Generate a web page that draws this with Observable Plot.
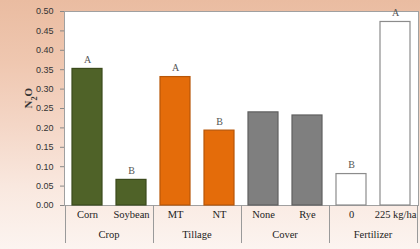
<!DOCTYPE html>
<html>
<head>
<meta charset="utf-8">
<script src="https://cdn.jsdelivr.net/npm/d3@7"></script>
<script src="https://cdn.jsdelivr.net/npm/@observablehq/plot@0.6"></script>
<style>
  html, body { margin: 0; padding: 0; }
  body {
    width: 420px; height: 249px; overflow: hidden;
    background: linear-gradient(to bottom, #eabca1 0%, #efc7b0 25%, #f4d6c6 50%, #f9e8df 75%, #fcf4f0 100%);
  }
  svg { display: block; background: transparent !important; }
</style>
</head>
<body>
<div id="chart"></div>
<script>
const categories = ["Corn", "Soybean", "MT", "NT", "None", "Rye", "0", "225 kg/ha"];
const groups = ["Crop", "Crop", "Tillage", "Tillage", "Cover", "Cover", "Fertilizer", "Fertilizer"];
const values = [0.352, 0.066, 0.331, 0.193, 0.240, 0.232, 0.081, 0.473];
const letters = ["A", "B", "A", "B", "", "", "B", "A"];
const groupNames = ["Crop", "Tillage", "Cover", "Fertilizer"];
const yTicks = [0, 0.05, 0.10, 0.15, 0.20, 0.25, 0.30, 0.35, 0.40, 0.45, 0.50];
const groupFill = {Crop: "#4f6228", Tillage: "#e46c0a", Cover: "#7f7f7f", Fertilizer: "#ffffff"};
const groupStroke = {Crop: "#3b4a1c", Tillage: "#b85607", Cover: "#5f5f5f", Fertilizer: "#8c8c8c"};

const data = categories.map((c, i) => ({cat: c, group: groups[i], value: values[i], letter: letters[i]}));

function groupDecor(index, scales, vals, dimensions) {
  const x = scales.x;
  const g = d3.create("svg:g");
  const step = x(categories[1]) - x(categories[0]);
  const bw = x.bandwidth ? x.bandwidth() : step * 0.68;
  const gap = (step - bw) / 2;
  const y0 = dimensions.height - dimensions.marginBottom;
  const bounds = [];
  groupNames.forEach((gn, i) => {
    const cats = categories.filter((c, j) => groups[j] === gn);
    const left = x(cats[0]) - gap;
    const right = x(cats[cats.length - 1]) + bw + gap;
    if (i === 0) bounds.push(left);
    bounds.push(right);
    g.append("text")
      .attr("x", (left + right) / 2)
      .attr("y", y0 + 31)
      .attr("text-anchor", "middle")
      .attr("dominant-baseline", "middle")
      .attr("font-family", "Liberation Serif, serif")
      .attr("font-size", 10.5)
      .attr("fill", "#222")
      .text(gn);
  });
  bounds.forEach(b => {
    g.append("line")
      .attr("x1", Math.round(b) + 0.5).attr("x2", Math.round(b) + 0.5)
      .attr("y1", y0).attr("y2", y0 + 38)
      .attr("stroke", "#9a9a9a").attr("stroke-width", 1);
  });
  return g.node();
}

const chart = Plot.plot({
  width: 420,
  height: 249,
  marginLeft: 64,
  marginRight: 2,
  marginTop: 11,
  marginBottom: 44,
  style: {background: "transparent", overflow: "visible"},
  x: {domain: categories, paddingInner: 0.32, paddingOuter: 0.16, axis: null},
  y: {domain: [0, 0.5], axis: null},
  marks: [
    Plot.frame({fill: "white", stroke: "#a0a0a0"}),
    Plot.barY(data, {
      x: "cat", y: "value",
      fill: d => groupFill[d.group],
      stroke: d => groupStroke[d.group],
      strokeWidth: 1.2
    }),
    Plot.text(data, {
      x: "cat", y: "value", text: "letter", dy: -9,
      fontFamily: "Liberation Serif, serif", fontSize: 10, fill: "#555"
    }),
    Plot.axisY({
      ticks: yTicks, tickFormat: d => d.toFixed(2), tickSize: 4, tickPadding: 7,
      fontSize: 9, fontFamily: "Liberation Sans, sans-serif", stroke: "#888", fill: "#333", label: null
    }),
    Plot.text(data, {
      x: "cat", text: "cat", frameAnchor: "bottom", dy: 12,
      fontFamily: "Liberation Serif, serif", fontSize: 10.5, fill: "#222"
    }),
    Plot.text(["N2O"], {
      text: d => d, frameAnchor: "left", dx: -36, rotate: -90,
      fontFamily: "Liberation Serif, serif", fontSize: 11, fontWeight: "bold", fill: "#333",
      className: "ylabel"
    }),
    groupDecor
  ]
});

document.getElementById("chart").appendChild(chart);

// subscript in the y label
d3.select(chart).selectAll(".ylabel text").each(function() {
  const t = d3.select(this);
  t.text(null);
  t.append("tspan").text("N");
  t.append("tspan").attr("baseline-shift", "sub").attr("font-size", "75%").text("2");
  t.append("tspan").text("O");
});
</script>
</body>
</html>
